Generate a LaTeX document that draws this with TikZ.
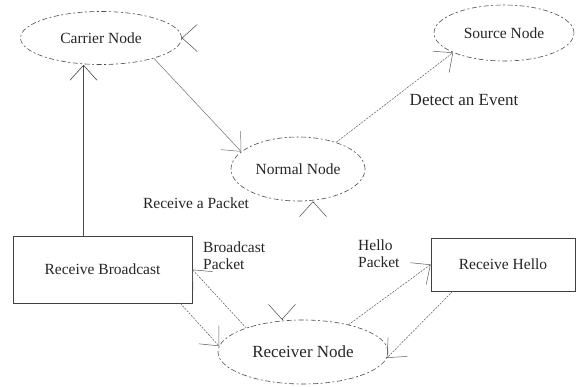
\documentclass[tikz,border=0pt]{standalone}
\usepackage{fontspec}
\setmainfont{Liberation Serif}
\usetikzlibrary{shapes.geometric,arrows.meta}
\begin{document}
\begin{tikzpicture}[x=1pt,y=-1pt,
  font=\rmfamily\fontsize{15.5}{17}\selectfont,
  txt/.style={text=black!85, inner sep=0pt},
  oval/.style={ellipse, draw=black!70, line width=0.6pt,
    dash pattern=on 5pt off 2.5pt on 2pt off 2.5pt, inner sep=0pt, text=black!85},
  box/.style={rectangle, draw=black!75, line width=0.7pt, inner sep=0pt, text=black!85},
  tip/.style={-{Straight Barb[length=15pt,width=27pt]}},
  link/.style={tip, draw=black!65, line width=0.5pt, dash pattern=on 2pt off 1.2pt},
  solidlink/.style={tip, draw=black!70, line width=0.6pt},
  stub/.style={tip, draw=black!70, line width=0.5pt},
]
\fill[white] (0,0) rectangle (581,386);
\useasboundingbox (0,0) rectangle (581,386);

% states
\node[oval, minimum width=161pt, minimum height=53pt] (carrier) at (101,38) {Carrier Node};
\node[oval, minimum width=140pt, minimum height=56pt] (source) at (504,33) {Source Node};
\node[oval, minimum width=134pt, minimum height=64pt] (normal) at (298,169) {Normal Node};
\node[oval, minimum width=170pt, minimum height=64pt, font=\rmfamily\fontsize{17}{19}\selectfont] (receiver) at (303,352) {Receiver Node};

% actions
\node[box, minimum width=179pt, minimum height=67pt] (rb) at (102.5,269.5) {Receive Broadcast};
\node[box, minimum width=144pt, minimum height=53pt] (hello) at (503,264.5) {Receive Hello};

% labels
\node[txt, font=\rmfamily\fontsize{17}{19}\selectfont] (detect) at (464,100) {Detect an Event};
\node[txt] (recvpkt) at (196,203) {Receive a Packet};
\node[txt, align=left, anchor=west] (bcast) at (203,256) {Broadcast\\Packet};
\node[txt, align=left, anchor=west] (hellopkt) at (358,254) {Hello\\Packet};

% transitions
\coordinate (up) at ([xshift=-19pt]rb.north);
\draw[solidlink] (up) -- (up |- carrier.south);
\draw[solidlink, draw=black!55, line width=0.5pt] (carrier.339) -- (normal.163);
\draw[link] (normal.35) -- (source.201);
\draw[link] (receiver.157) -- (rb.east);
\draw[link] ([xshift=-12pt]rb.south east) -- (receiver.176);
\draw[link] (receiver.31) -- (hello.west);
\draw[link] ([xshift=22pt]hello.south west) -- (receiver.356);

% arrowheads without a visible shaft
\draw[stub] ([xshift=0.5pt]carrier.east) -- (carrier.east);
\draw[stub] ([xshift=15pt,yshift=-0.5pt]normal.south) -- ([xshift=15pt]normal.south);
\draw[stub] ([xshift=-21pt,yshift=0.5pt]receiver.north) -- ([xshift=-21pt]receiver.north);
\end{tikzpicture}
\end{document}
